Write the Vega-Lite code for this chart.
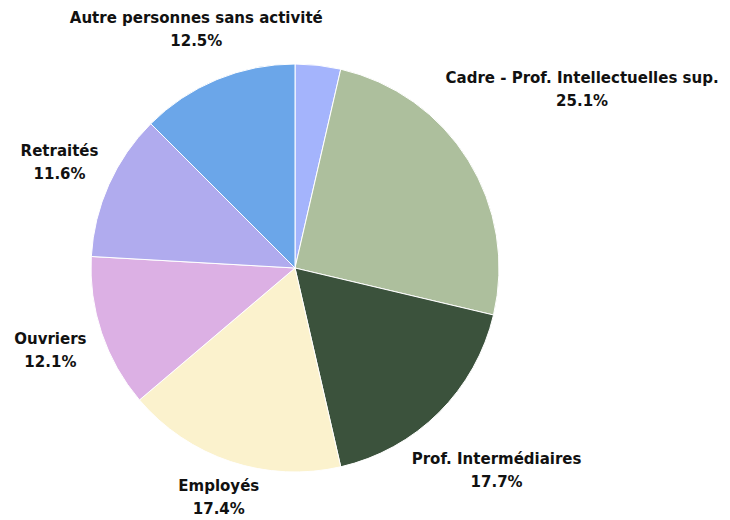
{
  "$schema": "https://vega.github.io/schema/vega-lite/v6.json",
  "autosize": {"type": "none"},
  "width": 590,
  "height": 504,
  "padding": {"left": 0, "top": 16, "right": 140, "bottom": 0},
  "background": "white",
  "config": {"view": {"stroke": null}, "text": {"font": "DejaVu Sans", "fontWeight": "bold", "fontSize": 15, "lineBreak": "\n", "lineHeight": 23, "color": "#111111", "dy": -11.5}},
  "data": {
    "values": [
      {"rank": 1, "cat": "Agriculteurs, artisans, commerçants", "value": 3.6},
      {"rank": 2, "cat": "Cadre - Prof. Intellectuelles sup.", "value": 25.1},
      {"rank": 3, "cat": "Prof. Intermédiaires", "value": 17.7},
      {"rank": 4, "cat": "Employés", "value": 17.4},
      {"rank": 5, "cat": "Ouvriers", "value": 12.1},
      {"rank": 6, "cat": "Retraités", "value": 11.6},
      {"rank": 7, "cat": "Autre personnes sans activité", "value": 12.5}
    ]
  },
  "transform": [
    {"calculate": "datum.cat + '\\n' + format(datum.value, '.1f') + '%'", "as": "label"}
  ],
  "encoding": {
    "theta": {"field": "value", "type": "quantitative", "stack": true},
    "order": {"field": "rank", "type": "quantitative", "sort": "ascending"}
  },
  "layer": [
    {
      "mark": {"type": "arc", "outerRadius": 204, "stroke": "white", "strokeWidth": 1},
      "encoding": {
        "color": {
          "field": "cat",
          "type": "nominal",
          "legend": null,
          "scale": {
            "domain": ["Agriculteurs, artisans, commerçants", "Cadre - Prof. Intellectuelles sup.", "Prof. Intermédiaires", "Employés", "Ouvriers", "Retraités", "Autre personnes sans activité"],
            "range": ["#A4B4FC", "#ADBF9D", "#3B523C", "#FBF2CD", "#DCB0E4", "#B0ABEE", "#6BA6E9"]
          }
        }
      }
    },
    {
      "mark": {"type": "text", "radius": 258, "dy": -11.5},
      "encoding": {
        "text": {"condition": {"test": "indexof(['Ouvriers','Retraités','Autre personnes sans activité'], datum.cat) >= 0", "field": "label"}, "value": ""}
      }
    },
    {
      "mark": {"type": "text", "radius": 242, "dy": -11.5},
      "encoding": {
        "text": {"condition": {"test": "datum.cat === 'Employés'", "field": "label"}, "value": ""}
      }
    },
    {
      "mark": {"type": "text", "radius": 286, "dy": -11.5},
      "encoding": {
        "text": {"condition": {"test": "datum.cat === 'Prof. Intermédiaires'", "field": "label"}, "value": ""}
      }
    },
    {
      "mark": {"type": "text", "radius": 338, "dy": -11.5},
      "encoding": {
        "text": {"condition": {"test": "datum.cat === 'Cadre - Prof. Intellectuelles sup.'", "field": "label"}, "value": ""}
      }
    }
  ]
}
